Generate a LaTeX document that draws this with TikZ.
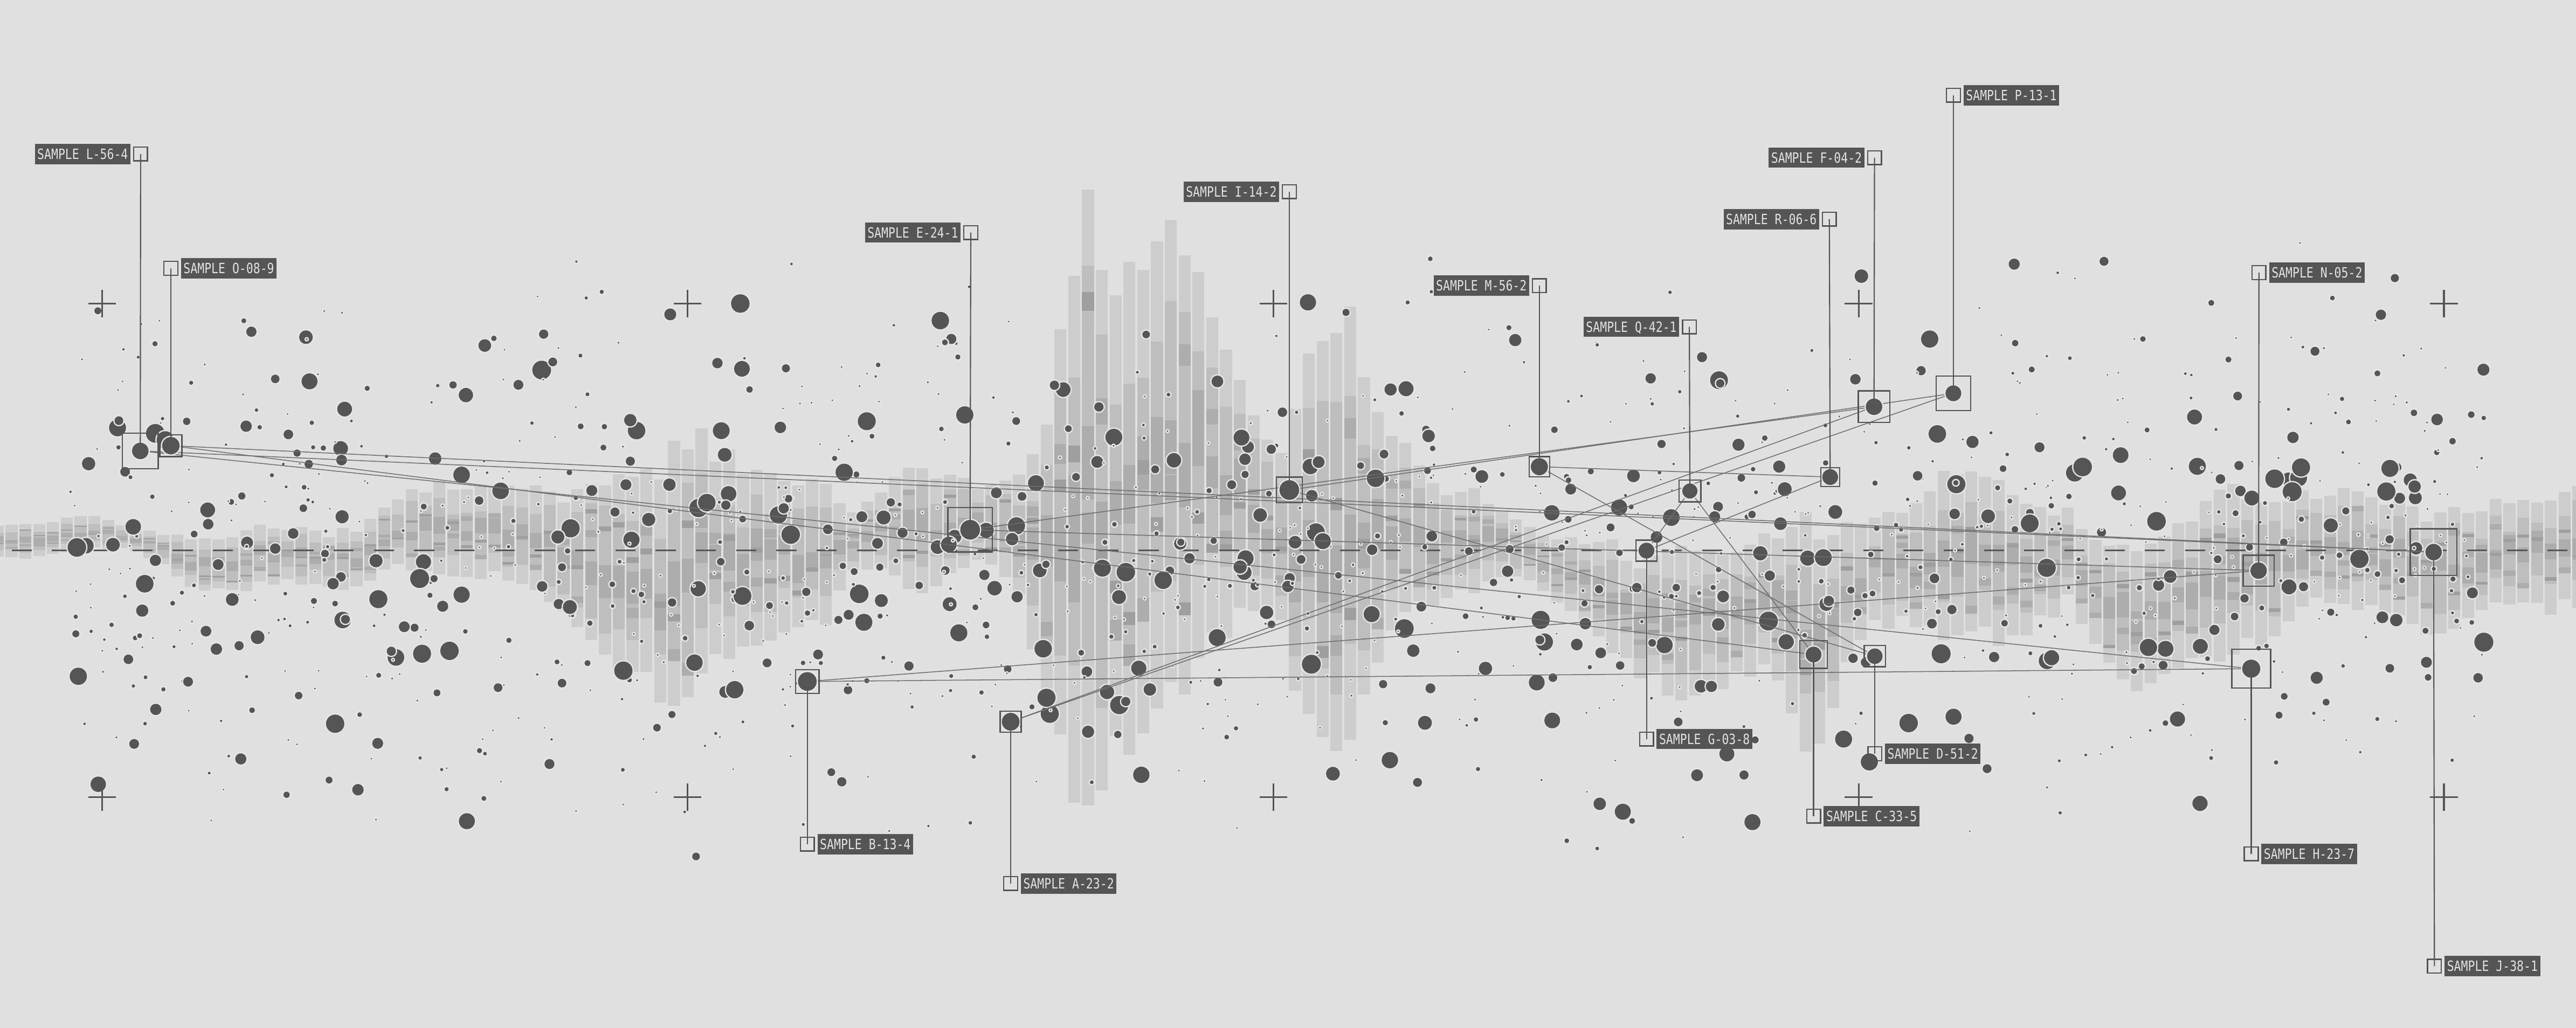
\documentclass[tikz,border=0pt]{standalone}
\usepackage{fontspec}
\newfontfamily\labfont[FakeStretch=0.82]{DejaVu Sans Mono}
\definecolor{bgc}{HTML}{E0E0E0}
\definecolor{ink}{HTML}{555555}
\definecolor{halo}{HTML}{E6E6E6}
\definecolor{barA}{HTML}{CDCDCD}
\definecolor{barB}{HTML}{BEBEBE}
\definecolor{barC}{HTML}{ADADAD}
\definecolor{barD}{HTML}{9F9F9F}
\definecolor{wire}{HTML}{6E6E6E}
\definecolor{labtxt}{HTML}{E2E2E2}
\tikzset{
  wirestyle/.style={draw=wire, line width=0.5pt},
  sbox/.style={draw=ink, line width=0.8pt, inner sep=0pt, outer sep=0pt, fill=none},
  tagsq/.style={draw=ink, line width=0.8pt, inner sep=0pt, outer sep=0pt, minimum size=8.4pt},
  leadline/.style={draw=ink, line width=0.7pt},
  tag/.style={fill=ink, text=labtxt, font=\labfont\fontsize{8.6}{9}\selectfont,
    inner xsep=1.5pt, inner ysep=3.05pt, text height=6.3pt, text depth=0pt, outer sep=0pt},
  crossmark/.style={draw=ink, line width=1pt}
}
\def\tops{320,318,316,315,322,325,329,327,319,321,325,321,305,296,295,296,298,304,299,295,285,268,275,286,294,298,310,296,285,292,300,288,245,125,190,150,150,208,250,280,215,195,262,278,302,301,316,326,330,330,345,338,336,338,326,319,322,318,312,292,287,295,308,312,330,331,326,312,298,300,303,298,300,308,315,310,307,306,297,295}
\def\bots{338,340,338,333,334,345,358,360,356,353,359,357,345,345,352,350,358,370,385,410,422,421,401,396,390,380,345,346,360,350,340,360,425,525,440,446,418,385,368,378,455,455,390,365,363,358,350,360,372,400,410,421,422,410,410,470,415,380,378,388,385,390,380,364,400,418,405,400,396,390,372,363,368,372,386,377,369,370,370,364}
\def\samples{L/85.4/274.6/5/21.7/85.6/93.8/east/-6.2/L-56-4,
O/104/271.4/5.3/13.4/104/163.4/west/6.2/O-08-9,
E/590.5/322.6/6/27/590.9/141.6/east/-6.2/E-24-1,
I/784.8/298.4/6/15.6/784.8/116.7/east/-6.2/I-14-2,
M/937/284.2/5.2/12.4/937/174/east/-6.2/M-56-2,
Q/1028.6/299/4.6/13.3/1028.3/199/east/-6.2/Q-42-1,
R/1114/290.5/4.8/11.5/1113.5/133.5/east/-6.2/R-06-6,
F/1140.7/247.7/5/19.2/1141/96/east/-6.2/F-04-2,
P/1189/239.5/4.8/21/1189/58/west/6.2/P-13-1,
N/1374.8/347.5/5/18.8/1375/166/west/6.2/N-05-2,
J/1481.3/336.2/5/28.3/1481.8/588.4/west/6.2/J-38-1,
H/1370.3/407.2/5.5/23.5/1370.3/520/west/6.2/H-23-7,
D/1141.2/399.6/4.7/12.9/1141.2/459/west/6.2/D-51-2,
C/1103.9/398.6/4.8/16.8/1103.9/497/west/6.2/C-33-5,
G/1002.2/335.3/4.8/12.9/1002.2/450/west/6.2/G-03-8,
B/491.4/415/5.7/14.4/491.4/514/west/6.2/B-13-4,
A/615.2/439.5/5.4/12.8/615.2/538/west/6.2/A-23-2}
\begin{document}
\begin{tikzpicture}[x=1pt,y=-1pt]
\fill[bgc] (0,0) rectangle (1568,626);
\useasboundingbox (0,0) rectangle (1568,626);
% ---- bars
\pgfmathsetseed{4242}
\foreach \i in {-1,...,186}{
  \pgfmathsetmacro\xa{3.4+8.4*\i}
  \pgfmathsetmacro\xm{max(0,min(1579,\xa+3.65))}
  \pgfmathtruncatemacro\kA{floor(\xm/20)}
  \pgfmathtruncatemacro\kB{\kA+1}
  \pgfmathsetmacro\fr{(\xm-20*\kA)/20}
  \pgfmathsetmacro\ta{{\tops}[\kA]}
  \pgfmathsetmacro\tb{{\tops}[\kB]}
  \pgfmathsetmacro\ba{{\bots}[\kA]}
  \pgfmathsetmacro\bb{{\bots}[\kB]}
  \pgfmathsetmacro\barH{(\ba+(\bb-\ba)*\fr)-(\ta+(\tb-\ta)*\fr)}
  \pgfmathsetmacro\barT{\ta+(\tb-\ta)*\fr+0.07*\barH*rand}
  \pgfmathsetmacro\barB{\ba+(\bb-\ba)*\fr+0.07*\barH*rand}
  \pgfmathsetmacro\mT{\barT+\barH*(0.2+0.08*rand)}
  \pgfmathsetmacro\mB{\barB-\barH*(0.2+0.08*rand)}
  \pgfmathsetmacro\cC{(\barT+\barB)/2+\barH*0.1*rand}
  \pgfmathsetmacro\cH{\barH*(0.05+0.05*rnd)}
  \pgfmathsetmacro\sY{\mT+(\mB-\mT)*rnd}
  \pgfmathsetmacro\sZ{\mT+(\mB-\mT)*rnd}
  \fill[barA] (\xa,\barT) rectangle (\xa+7.3,\barB);
  \fill[barB] (\xa,\mT) rectangle (\xa+7.3,\mB);
  \fill[barC] (\xa,\cC-\cH) rectangle (\xa+7.3,\cC+\cH);
  \fill[barD] (\xa,\sY) rectangle (\xa+7.3,\sY+0.03*\barH);
  \fill[barC] (\xa,\sZ) rectangle (\xa+7.3,\sZ+0.05*\barH);
}
% ---- dashed centre line
\draw[ink, line width=1pt, dash pattern=on 12.2pt off 12.3pt, dash phase=17.4pt] (0,335.3) -- (1568,335.3);
% ---- scattered dots
\pgfmathsetseed{2024}
\foreach \j in {1,...,1450}{
  \pgfmathsetmacro\dX{42+1470*rnd}
  \pgfmathsetmacro\dY{335+70*(rand+rand+rand)}
  \pgfmathsetmacro\dR{0.5+5.3*pow(rnd,3.4)}
  \pgfmathsetmacro\dH{\dR+0.8}
  \fill[halo] (\dX,\dY) circle (\dH pt);
  \fill[ink] (\dX,\dY) circle (\dR pt);
}
% ---- sample coordinates
\foreach \n/\px/\py/\r/\s/\tx/\ty/\anc/\dx/\txt in \samples{
  \coordinate (\n) at (\px,\py);
  \coordinate (\n-t) at (\tx,\ty);
}
% ---- connectors
\foreach \a/\b in {L/J, O/J, L/H, O/C, E/F, I/P, E/N, I/D, M/R, M/D, Q/G, Q/C, G/R, A/F, A/P, B/N, B/H}{
  \draw[wirestyle] (\a) -- (\b);
}
% ---- crosshairs
\foreach \cx in {62.2,418.5,775,1131.3,1487.6}{
  \foreach \cy in {185,485.5}{
    \draw[crossmark] (\cx-8.4,\cy) -- (\cx+8.4,\cy) (\cx,\cy-8.4) -- (\cx,\cy+8.4);
  }
}
% ---- sample markers and labels
\foreach \n/\px/\py/\r/\s/\tx/\ty/\anc/\dx/\txt in \samples{
  \pgfmathsetmacro\rh{\r+0.8}
  \fill[halo] (\n) circle (\rh pt);
  \fill[ink] (\n) circle (\r pt);
  \node[sbox, minimum size=\s pt] (\n-box) at (\n) {};
  \node[tagsq] (\n-sq) at (\n-t) {};
  \draw[leadline] (\n-sq.center) -- (\n);
  \node[tag, anchor=\anc, xshift=\dx pt] (\n-lab) at (\n-t) {SAMPLE \txt};
}
\end{tikzpicture}
\end{document}
